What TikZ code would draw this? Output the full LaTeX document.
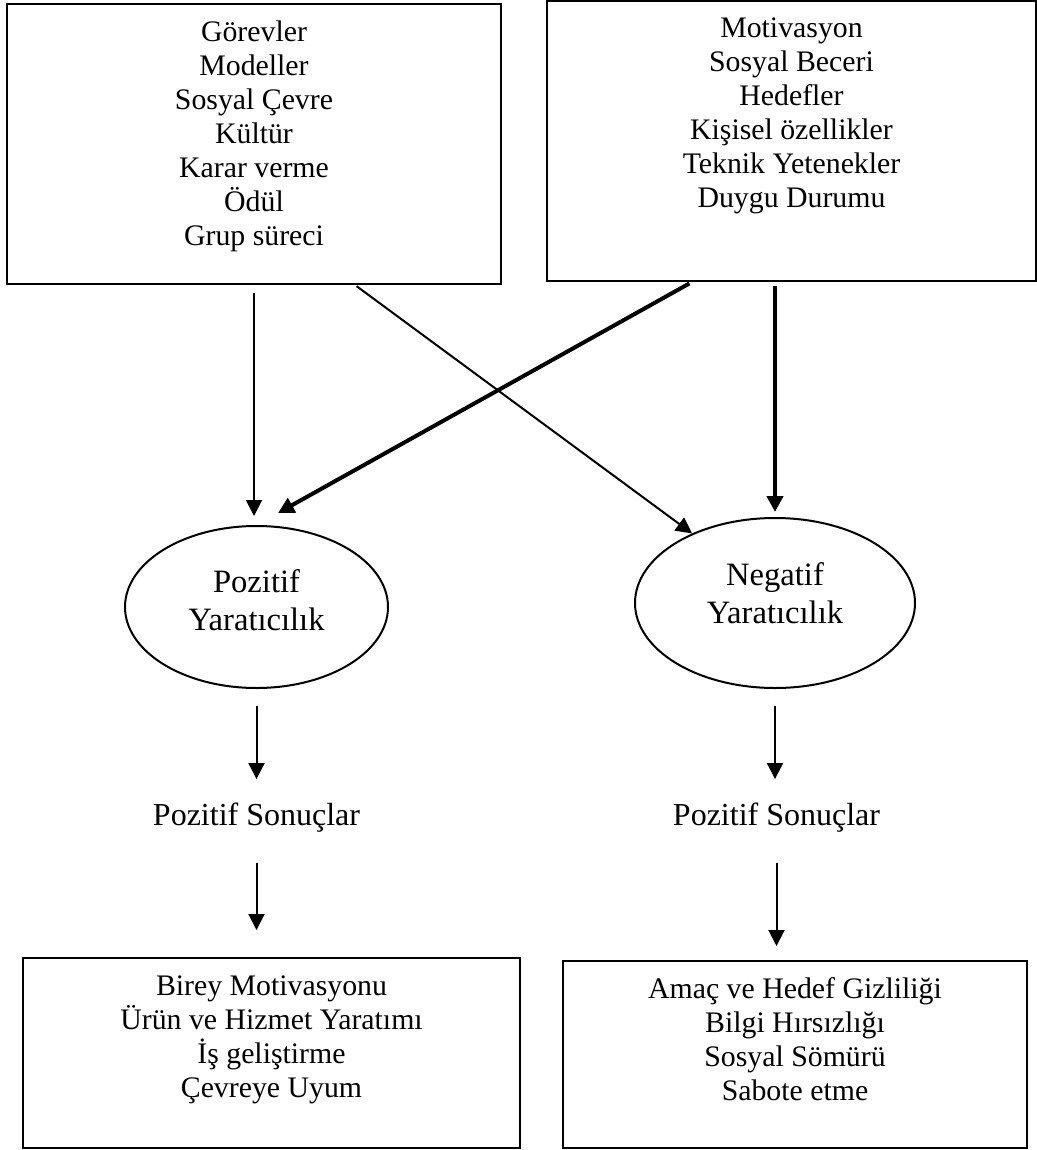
\documentclass[tikz,border=0pt]{standalone}
\usepackage{fontspec}
\setmainfont{Liberation Serif}
\usetikzlibrary{arrows.meta}
\usetikzlibrary{shapes.geometric}
\tikzset{%
	>={Triangle[width=8pt,length=8pt]},
	% Specifications for style of nodes:
	base/.style = {draw=black, line width=1pt, align=center,
		font=\fontsize{14.9}{17}\selectfont},
	listbox/.style = {base, rectangle, inner sep=0pt},
	creativity/.style = {base, ellipse, inner sep=0pt,
		font=\fontsize{16.3}{19}\selectfont},
	outcome/.style = {align=center, inner sep=0pt, anchor=base,
		font=\fontsize{16}{19}\selectfont},
	link/.style = {->, line width=1pt},
	strong/.style = {->, line width=2pt},
}
\begin{document}
\begin{tikzpicture}[x=0.5pt, y=-0.5pt]
	\useasboundingbox (0,0) rectangle (1037,1150);
	% Specification of nodes (position, etc.)
	\node (context)  [listbox, minimum width=247pt, minimum height=140pt, text depth=11pt] at (254,144)
		{Görevler\\Modeller\\Sosyal Çevre\\Kültür\\Karar verme\\Ödül\\Grup süreci};
	\node (person)   [listbox, minimum width=244.5pt, minimum height=140pt, text depth=28.6pt] at (791.5,141)
		{Motivasyon\\Sosyal Beceri\\Hedefler\\Kişisel özellikler\\Teknik Yetenekler\\Duygu Durumu};
	\node (posCreat) [creativity, minimum width=131.5pt, minimum height=81pt, text depth=7pt] at (256.5,607)
		{Pozitif\\Yaratıcılık};
	\node (negCreat) [creativity, minimum width=140pt, minimum height=85pt, text depth=10pt] at (775,603)
		{Negatif\\Yaratıcılık};
	\node (posRes)   [outcome] at (256.5,825) {Pozitif Sonuçlar};
	\node (negRes)   [outcome] at (776.5,825) {Pozitif Sonuçlar};
	\node (posList)  [listbox, minimum width=248.5pt, minimum height=95pt, text depth=16.6pt] at (271.5,1053)
		{Birey Motivasyonu\\Ürün ve Hizmet Yaratımı\\İş geliştirme\\Çevreye Uyum};
	\node (negList)  [listbox, minimum width=232pt, minimum height=93.5pt, text depth=15.5pt] at (795,1054.5)
		{Amaç ve Hedef Gizliliği\\Bilgi Hırsızlığı\\Sosyal Sömürü\\Sabote etme};
	% connectors
	\draw[link, shorten <=4pt, shorten >=4.5pt] (context.south) -- (context.south |- posCreat.north);
	\draw[link, shorten <=1pt] ([xshift=50.5pt]context.south) -- (negCreat.140);
	\draw[strong, shorten <=1.5pt] ([xshift=-49.75pt]person.south) -- ([xshift=10.75pt,yshift=6pt]posCreat.north);
	\draw[strong, shorten <=2pt, shorten >=2.5pt] (negCreat.north |- person.south) -- (negCreat.north);
	\draw[link, shorten <=8.5pt, shorten >=11.5pt] (posCreat.south) -- (posCreat.south |- posRes.north);
	\draw[link, shorten <=15.5pt, shorten >=13.5pt] (posRes.south) -- (posRes.south |- posList.north);
	\draw[link, shorten <=8.5pt, shorten >=11.5pt] (negCreat.south) -- (negCreat.south |- negRes.north);
	\draw[link, shorten <=15.5pt, shorten >=7pt] (negRes.south) -- (negRes.south |- negList.north);
\end{tikzpicture}
\end{document}
